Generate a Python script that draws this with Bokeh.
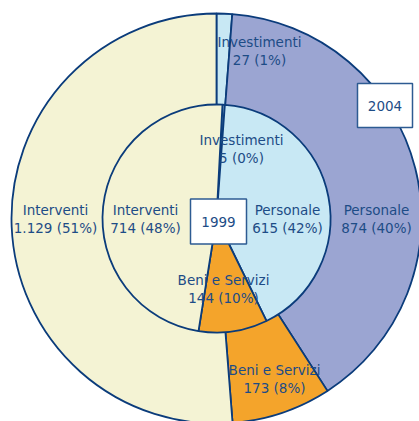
import math
from bokeh.plotting import figure
from bokeh.models import Range1d, ColumnDataSource
from bokeh.core.properties import value
from bokeh.embed import file_html
from bokeh.resources import INLINE

# ---- data ----
categories = ["Investimenti", "Personale", "Beni e Servizi", "Interventi"]
values_2004 = [27, 874, 173, 1129]
values_1999 = [5, 615, 144, 714]
colors_2004 = ["#C8E8F4", "#9BA5D2", "#F4A42B", "#F4F3D4"]
colors_1999 = ["#C8E8F4", "#C8E8F4", "#F4A42B", "#F4F3D4"]
year_labels = ["2004", "1999"]

# ---- layout (image pixel coordinates) ----
CX, CY = 216, 218
R_OUT, R_IN = 205, 114
START_OUT, START_IN = 0.0, 3.0  # degrees clockwise from 12 o'clock
label_pos_2004 = [(259, 50), (376, 218), (274, 378), (55, 218)]
label_pos_1999 = [(241, 148), (287, 218), (223, 288), (145, 218)]
box_pos = [(384.5, 105, 55, 44), (218, 221, 56, 45)]

NAVY = "#0B3C7B"
TEXT = "#1D4C86"
FONT = value("DejaVu Sans")
FS = "13.5px"

p = figure(width=419, height=421, x_range=Range1d(0, 419), y_range=Range1d(-421, 0),
           x_axis_location=None, y_axis_location=None, toolbar_location=None,
           output_backend="svg", min_border=0)
p.grid.visible = False
p.outline_line_color = None
p.background_fill_color = "white"
p.border_fill_color = "white"


def fmt(v):
    return f"{v:,}".replace(",", ".")


def wedges(vals, cols, start_deg, radius):
    total = sum(vals)
    starts, ends = [], []
    acc = start_deg
    for v in vals:
        a1 = acc
        a2 = acc + v / total * 360.0
        acc = a2
        starts.append(math.radians(90 - a2))
        ends.append(math.radians(90 - a1))
    src = ColumnDataSource(dict(x=[CX] * len(vals), y=[-CY] * len(vals),
                                start=starts, end=ends, color=cols))
    p.wedge(x="x", y="y", radius=radius, start_angle="start", end_angle="end",
            fill_color="color", line_color=NAVY, line_width=1.8, source=src)


def labels(vals, pos):
    total = sum(vals)
    xs = [q[0] for q in pos]
    y1 = [-(q[1] - 9) for q in pos]
    y2 = [-(q[1] + 9) for q in pos]
    names = categories
    nums = [f"{fmt(v)} ({round(v / total * 100)}%)" for v in vals]
    p.text(x=xs, y=y1, text=names, text_font=FONT, text_font_size=FS,
           text_color=TEXT, text_align="center", text_baseline="middle")
    p.text(x=xs, y=y2, text=nums, text_font=FONT, text_font_size=FS,
           text_color=TEXT, text_align="center", text_baseline="middle")


wedges(values_2004, colors_2004, START_OUT, R_OUT)
wedges(values_1999, colors_1999, START_IN, R_IN)
labels(values_2004, label_pos_2004)
labels(values_1999, label_pos_1999)

bx = [b[0] for b in box_pos]
by = [-b[1] for b in box_pos]
bw = [b[2] for b in box_pos]
bh = [b[3] for b in box_pos]
p.rect(x=bx, y=by, width=bw, height=bh, fill_color="white", line_color="#2D5B92", line_width=1.5)
p.text(x=bx, y=by, text=year_labels, text_font=FONT, text_font_size=FS,
       text_color=TEXT, text_align="center", text_baseline="middle")

open("out.html", "w").write(file_html(p, INLINE))
